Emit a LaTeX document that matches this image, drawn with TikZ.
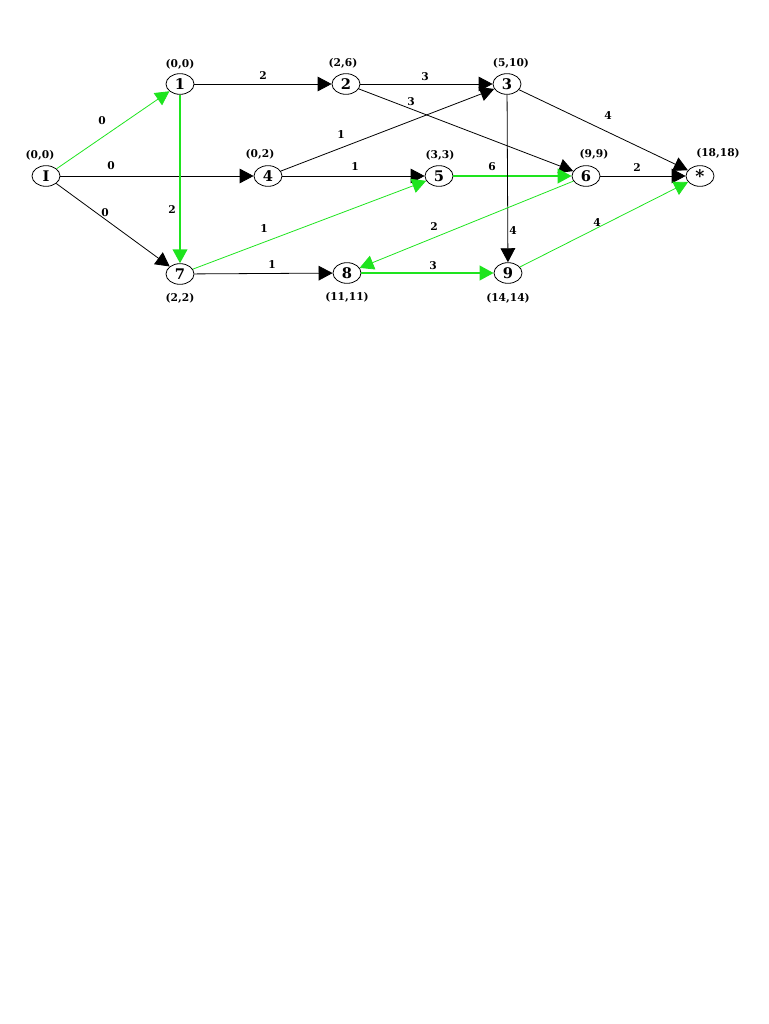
\documentclass[tikz,border=0pt]{standalone}
\usepackage{fontspec}
\setmainfont{DejaVu Serif}
\usetikzlibrary{shapes.geometric,arrows.meta}
\definecolor{critgreen}{RGB}{30,228,30}

\begin{document}
\begin{tikzpicture}[x=0.75pt, y=-0.75pt,
        event/.style={ellipse, draw, line width=0.6pt, minimum width=21pt, minimum height=15.5pt, inner sep=0pt, font=\fontsize{11}{11}\selectfont\bfseries},
        wt/.style={font=\fontsize{8}{8}\selectfont\bfseries, inner sep=1pt},
        act/.style={-{Triangle[length=10.5pt,width=11pt]}, black, line width=0.6pt},
        crit/.style={act, critgreen},
        critthick/.style={crit, line width=1.5pt}]
    \useasboundingbox (0,0) rectangle (768,1024);
    % events
    \node[event] (s)  at (46,176)  {I};
    \node[event] (n1) at (180,84)  {1};
    \node[event] (n2) at (346,84)  {2};
    \node[event] (n3) at (507,84)  {3};
    \node[event] (n4) at (268,176) {4};
    \node[event] (n5) at (439,176) {5};
    \node[event] (n6) at (586,176) {6};
    \node[event] (e)  at (700,176) {\fontsize{13}{13}\selectfont\raisebox{-0.35em}{*}};
    \node[event] (n7) at (180,274) {7};
    \node[event] (n8) at (347,273) {8};
    \node[event] (n9) at (508,273) {9};
    % early and late times
    \node[wt] (ts)  at (40,155)  {(0,0)};
    \node[wt] (t1)  at (180,64)  {(0,0)};
    \node[wt] (t2)  at (343,63)  {(2,6)};
    \node[wt] (t3)  at (511,63)  {(5,10)};
    \node[wt] (t4)  at (260,154) {(0,2)};
    \node[wt] (t5)  at (440,155) {(3,3)};
    \node[wt] (t6)  at (594,154) {(9,9)};
    \node[wt] (te)  at (718,153) {(18,18)};
    \node[wt] (t7)  at (180,298) {(2,2)};
    \node[wt] (t8)  at (347,297) {(11,11)};
    \node[wt] (t9)  at (508,298) {(14,14)};
    % activities
    \draw[crit]       (s) -- (n1);
    \draw[act]        (s) -- (n4);
    \draw[act]        (s) -- (n7);
    \draw[act]        (n1) -- (n2);
    \draw[critthick]  (n1) -- (n7);
    \draw[act]        (n2) -- (n3);
    \draw[act]        (n2) -- (n6);
    \draw[act]        (n4) -- (n3);
    \draw[act]        (n4) -- (n5);
    \draw[critthick]  (n5) -- (n6);
    \draw[act]        (n3) -- (e);
    \draw[act]        (n3) -- (n9);
    \draw[act]        (n6) -- (e);
    \draw[crit]       (n6) -- (n8);
    \draw[crit]       (n7) -- (n5);
    \draw[act]        (n7) -- (n8);
    \draw[critthick]  (n8) -- (n9);
    \draw[crit]       (n9) -- (e);
    % durations
    \node[wt] (ws1) at (102,121) {0};
    \node[wt] (ws4) at (111,166) {0};
    \node[wt] (ws7) at (105,213) {0};
    \node[wt] (w12) at (263,76)  {2};
    \node[wt] (w17) at (172,210) {2};
    \node[wt] (w23) at (425,77)  {3};
    \node[wt] (w26) at (411,102) {3};
    \node[wt] (w43) at (341,135) {1};
    \node[wt] (w45) at (355,167) {1};
    \node[wt] (w56) at (492,167) {6};
    \node[wt] (w3e) at (608,116) {4};
    \node[wt] (w39) at (513,231) {4};
    \node[wt] (w6e) at (637,168) {2};
    \node[wt] (w68) at (434,227) {2};
    \node[wt] (w75) at (264,229) {1};
    \node[wt] (w78) at (272,265) {1};
    \node[wt] (w89) at (433,266) {3};
    \node[wt] (w9e) at (597,223) {4};
\end{tikzpicture}
\end{document}
